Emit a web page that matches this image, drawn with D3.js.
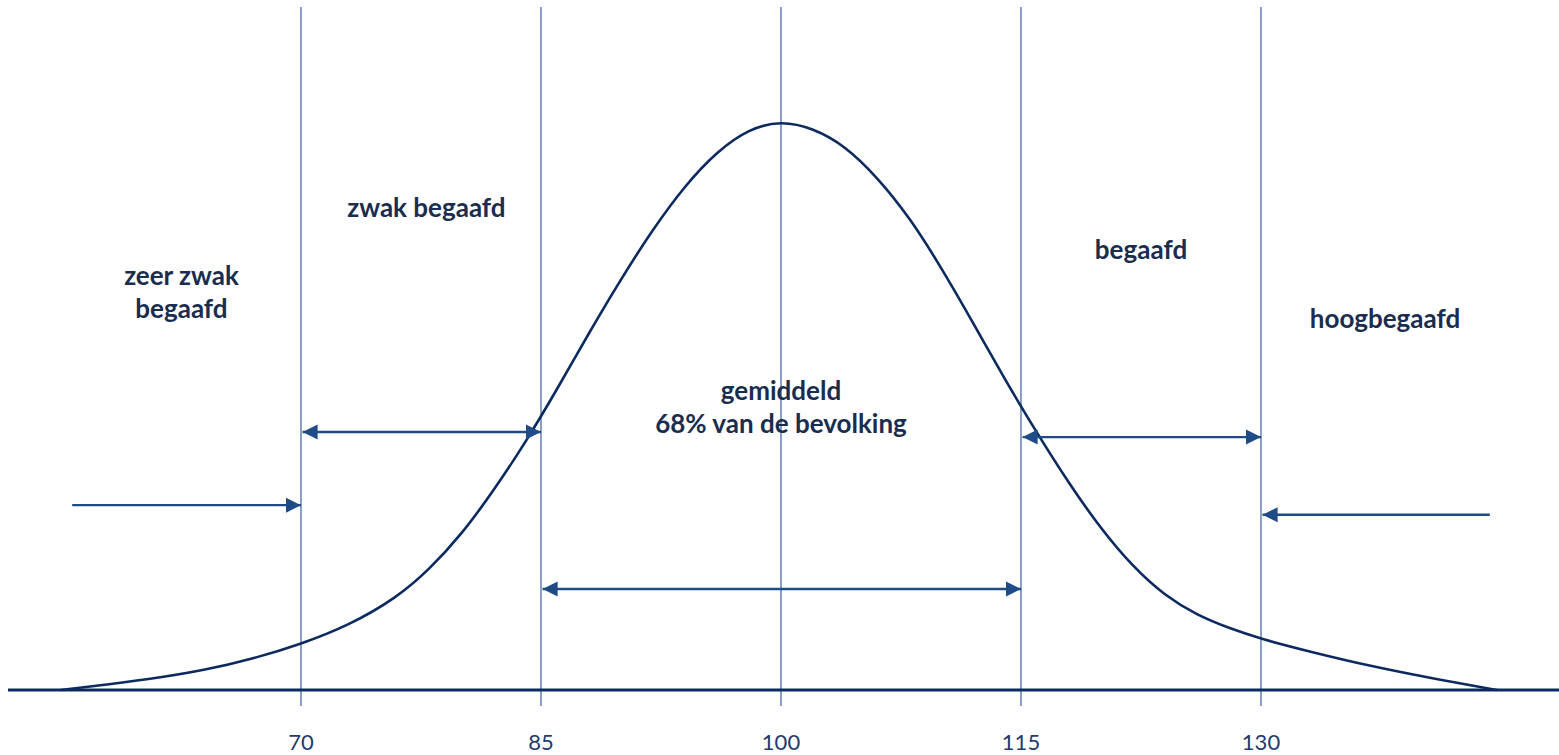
<!DOCTYPE html>
<html>
<head>
<meta charset="utf-8">
<script src="https://cdn.jsdelivr.net/npm/d3@7"></script>
<style>
  html, body { margin: 0; padding: 0; background: #ffffff; }
  svg { display: block; }
</style>
</head>
<body>
<svg id="chart" width="1559" height="755"></svg>
<script>
// ---- data (IQ value, relative height in % of peak) ----
const curveIQ = [55, 58, 61, 64, 67, 70, 73, 76, 78, 80, 82, 84, 86, 88, 90, 92, 94, 96, 98, 100,
                 102, 104, 106, 108, 110, 112, 114, 116, 118, 120, 122, 124, 126, 128, 130, 133, 137, 141, 144.75];
const curveHeight = [0, 1.0, 2.1, 3.5, 5.5, 8.1, 11.4, 16.3, 21.2, 27.3, 35.0, 43.5, 53.0, 63.0, 72.5, 81.3, 89.0, 95.0, 99.0, 100.4,
                     99.1, 96.0, 90.5, 83.5, 74.6, 64.8, 54.7, 45.3, 36.4, 28.4, 21.7, 16.6, 13.2, 10.9, 9.0, 6.8, 4.1, 1.9, 0];
const tickValues = [70, 85, 100, 115, 130];
const tickLabels = ["70", "85", "100", "115", "130"];

const labelLines = [["zeer zwak", "begaafd"], ["zwak begaafd"], ["gemiddeld", "68% van de bevolking"], ["begaafd"], ["hoogbegaafd"]];
const labelIQ = [62.53, 77.84, 100, 122.5, 137.75];
const labelHeight = [71.4, 83.4, 51.1, 76.0, 63.8];

// arrows: from, to, height, double-headed?
const arrowFrom = [55.7, 70.1, 85.1, 115.1, 144.3];
const arrowTo = [70, 85, 115, 130, 130.1];
const arrowHeight = [32.6, 45.5, 17.8, 44.6, 30.9];
const arrowDouble = [false, true, true, true, false];

// ---- layout ----
const svg = d3.select("#chart");
const W = 1559, H = 755;
const baseY = 690, peakY = 123;
const x = d3.scaleLinear().domain([70, 130]).range([301, 1261]);
const y = d3.scaleLinear().domain([0, 100]).range([baseY, peakY]);

const gridColor = "#4a6ca5";
const curveColor = "#0c2a60";
const arrowColor = "#1f4b86";
const textColor = "#1a2d4e";
const tickColor = "#1f3a6e";

// vertical reference lines
svg.append("g").selectAll("line").data(tickValues).join("line")
  .attr("x1", d => x(d)).attr("x2", d => x(d))
  .attr("y1", 7).attr("y2", 706)
  .attr("stroke", gridColor).attr("stroke-width", 1.3);

// baseline
svg.append("line")
  .attr("x1", 8).attr("x2", W).attr("y1", baseY).attr("y2", baseY)
  .attr("stroke", curveColor).attr("stroke-width", 3);

// tick labels
svg.append("g").selectAll("text").data(tickValues).join("text")
  .attr("x", d => x(d)).attr("y", 750)
  .attr("text-anchor", "middle")
  .attr("font-family", "Lato, 'Open Sans', sans-serif")
  .attr("font-size", 22)
  .attr("fill", tickColor)
  .text((d, i) => tickLabels[i]);

// curve
const pts = curveIQ.map((v, i) => [v, curveHeight[i]]);
svg.append("path")
  .datum(pts)
  .attr("d", d3.line().x(d => x(d[0])).y(d => y(d[1])).curve(d3.curveBasis))
  .attr("fill", "none")
  .attr("stroke", curveColor)
  .attr("stroke-width", 2.6);

// arrow markers
const defs = svg.append("defs");
defs.append("marker").attr("id", "arrEnd")
  .attr("viewBox", "0 0 16 16").attr("refX", 15).attr("refY", 8)
  .attr("markerWidth", 16).attr("markerHeight", 16).attr("markerUnits", "userSpaceOnUse")
  .attr("orient", "auto")
  .append("path").attr("d", "M0,0.5 L15,8 L0,15.5 Z").attr("fill", arrowColor);
defs.append("marker").attr("id", "arrStart")
  .attr("viewBox", "0 0 16 16").attr("refX", 1).attr("refY", 8)
  .attr("markerWidth", 16).attr("markerHeight", 16).attr("markerUnits", "userSpaceOnUse")
  .attr("orient", "auto")
  .append("path").attr("d", "M16,0.5 L1,8 L16,15.5 Z").attr("fill", arrowColor);

svg.append("g").selectAll("line").data(arrowFrom).join("line")
  .attr("x1", d => x(d)).attr("x2", (d, i) => x(arrowTo[i]))
  .attr("y1", (d, i) => y(arrowHeight[i])).attr("y2", (d, i) => y(arrowHeight[i]))
  .attr("stroke", arrowColor).attr("stroke-width", 2.4)
  .attr("marker-end", "url(#arrEnd)")
  .attr("marker-start", (d, i) => arrowDouble[i] ? "url(#arrStart)" : null);

// category labels
const lg = svg.append("g")
  .attr("font-family", "Lato, 'Open Sans', sans-serif")
  .attr("font-weight", 700)
  .attr("font-size", 26)
  .attr("fill", textColor)
  .attr("text-anchor", "middle");
labelLines.forEach((lines, i) => {
  const t = lg.append("text").attr("x", x(labelIQ[i])).attr("y", y(labelHeight[i]));
  lines.forEach((s, j) => {
    t.append("tspan").attr("x", x(labelIQ[i])).attr("dy", j === 0 ? 0 : 33).text(s);
  });
});
</script>
</body>
</html>
